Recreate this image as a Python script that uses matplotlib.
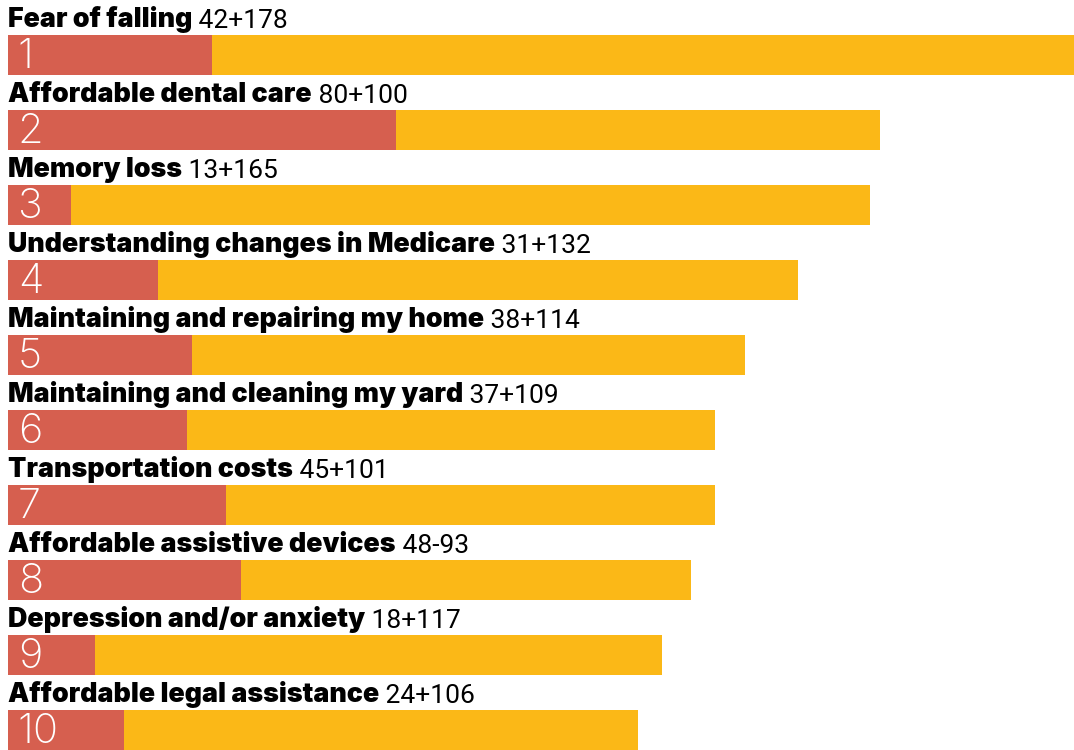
import matplotlib.pyplot as plt

topics = [
    "Fear of falling",
    "Affordable dental care",
    "Memory loss",
    "Understanding changes in Medicare",
    "Maintaining and repairing my home",
    "Maintaining and cleaning my yard",
    "Transportation costs",
    "Affordable assistive devices",
    "Depression and/or anxiety",
    "Affordable legal assistance",
]
first_votes = [42, 80, 13, 31, 38, 37, 45, 48, 18, 24]
other_votes = [178, 100, 165, 132, 114, 109, 101, 93, 117, 106]
score_labels = ["42+178", "80+100", "13+165", "31+132", "38+114",
                "37+109", "45+101", "48-93", "18+117", "24+106"]
ranks = [str(i + 1) for i in range(len(topics))]

RED = "#d65f4f"
YELLOW = "#fbb817"

fig = plt.figure(figsize=(10.74, 7.5), dpi=100)
ax = fig.add_axes([8 / 1074, 0, 1066 / 1074, 1])
ax.set_xlim(0, 220)
# one row = 75 px; first bar centred 55 px from the top
ax.set_ylim(695 / 75, -55 / 75)
ax.axis("off")

rows = range(len(topics))
ax.barh(rows, first_votes, height=40 / 75, color=RED, linewidth=0)
ax.barh(rows, other_votes, left=first_votes, height=40 / 75,
        color=YELLOW, linewidth=0)

for i in rows:
    t = ax.text(0, i - 0.375, topics[i], fontsize=19.3, fontweight="black",
                family="Inter", color="black", va="baseline", ha="left")
    ax.annotate(" " + score_labels[i], xy=(1, 0), xycoords=t,
                fontsize=19, family="Roboto", fontweight="normal",
                color="black", va="bottom", ha="left")
    ax.text(2.0, i + 0.03, ranks[i], fontsize=30, family="Inter",
            fontweight="light", color="white", va="center", ha="left")

fig.savefig("out.png", dpi=100)
